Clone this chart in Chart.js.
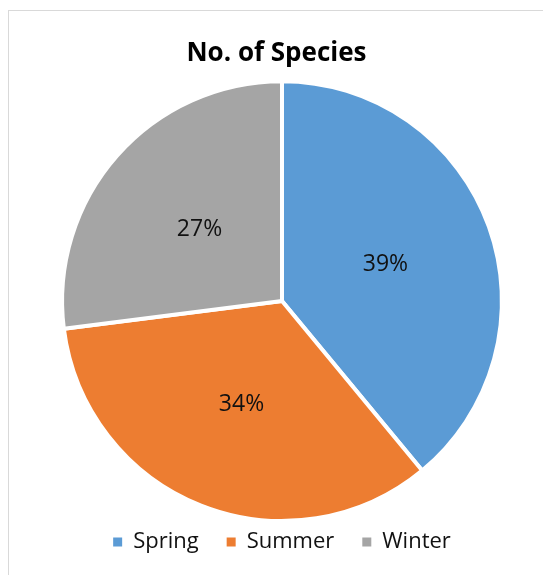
<!DOCTYPE html>
<html><head><meta charset="utf-8">
<script src="https://cdn.jsdelivr.net/npm/chart.js@4.4.1/dist/chart.umd.min.js"></script>
<style>
html,body{margin:0;padding:0;background:#fff;overflow:hidden;width:543px;height:575px}
#frame{position:absolute;left:8px;top:10px;width:620px;height:620px;border:1px solid #d9d9d9;box-sizing:border-box}
#wrap{position:absolute;left:0;top:0;width:543px;height:575px}
</style></head><body>
<div id="frame"></div>
<div id="wrap"><canvas id="c" width="543" height="575"></canvas></div>
<script>
const titleText = 'No. of Species';
const categories = ['Spring', 'Summer', 'Winter'];
const percentages = [39, 34, 27];
const sliceColors = ['#5B9BD5', '#ED7D31', '#A5A5A5'];

const FONT = '"Open Sans", "Noto Sans", sans-serif';

const adjustBoxes = {
  id: 'adjustBoxes',
  afterLayout(chart) {
    const lg = chart.legend;
    if (lg) { const dy = -20; lg.top += dy; lg.bottom += dy; }
    const tb = chart.titleBlock;
    if (tb) { const dx = -5.5; tb.left += dx; tb.right += dx; }
  }
};

const pctLabels = {
  id: 'pctLabels',
  afterDatasetsDraw(chart) {
    const ctx = chart.ctx;
    const meta = chart.getDatasetMeta(0);
    ctx.save();
    ctx.font = '23px ' + FONT;
    ctx.fillStyle = '#111111';
    ctx.textAlign = 'center';
    ctx.textBaseline = 'middle';
    meta.data.forEach((arc, i) => {
      const p = arc.getCenterPoint();
      ctx.fillText(percentages[i] + '%', p.x, p.y + 1);
    });
    ctx.restore();
  }
};

new Chart(document.getElementById('c'), {
  type: 'pie',
  data: {
    labels: categories,
    datasets: [{
      data: percentages,
      backgroundColor: sliceColors,
      borderColor: '#ffffff',
      borderWidth: 4,
      hoverOffset: 0,
      offset: 0
    }]
  },
  options: {
    responsive: false,
    animation: false,
    devicePixelRatio: 1,
    layout: { padding: { top: 0, left: 40, right: 19, bottom: 0 } },
    plugins: {
      title: {
        display: true,
        text: titleText,
        color: '#000000',
        font: { family: FONT, size: 26, weight: 'bold', lineHeight: 1.2 },
        padding: { top: 38, bottom: 10 }
      },
      legend: {
        display: true,
        position: 'bottom',
        maxHeight: 52,
        labels: {
          color: '#111111',
          font: { family: FONT, size: 22 },
          boxWidth: 9,
          boxHeight: 9,
          padding: 28,
          generateLabels(chart) {
            const items = Chart.controllers.pie.overrides.plugins.legend.labels.generateLabels(chart);
            items.forEach(it => { it.lineWidth = 0; it.strokeStyle = it.fillStyle; });
            return items;
          }
        }
      },
      tooltip: { enabled: false }
    }
  },
  plugins: [adjustBoxes, pctLabels]
});
</script>
</body></html>
